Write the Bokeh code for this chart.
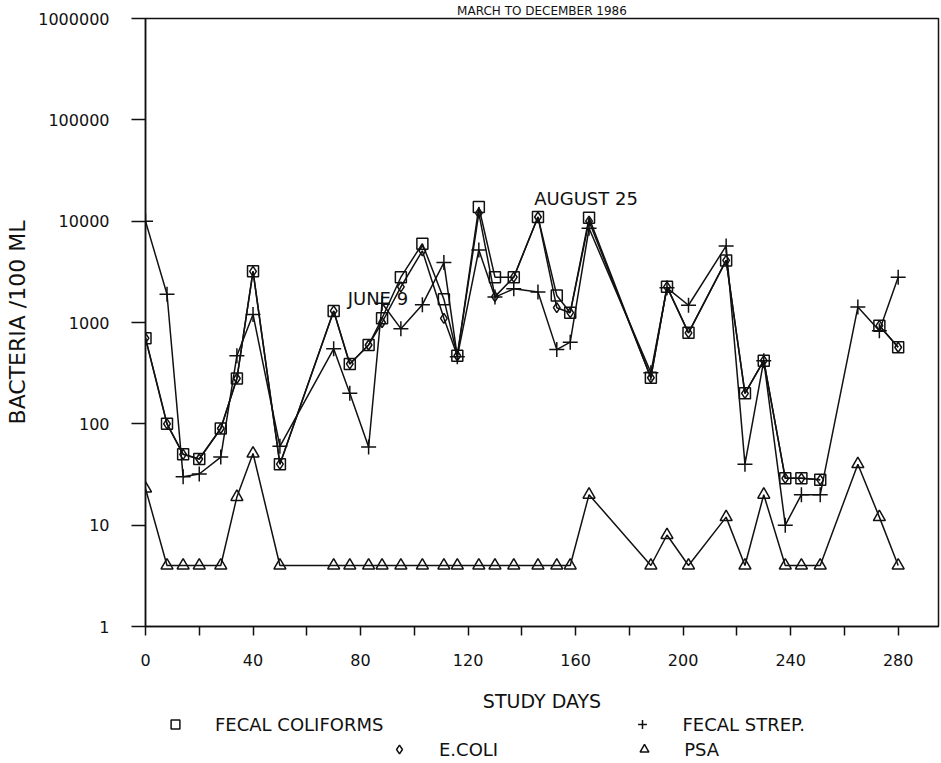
import numpy as np
from bokeh.plotting import figure
from bokeh.layouts import column
from bokeh.models import FixedTicker, Label, Legend, LegendItem, Range1d
from bokeh.embed import file_html
from bokeh.resources import INLINE

# Sampling days (study day number) and bacteria counts per 100 mL
days = [0, 8, 14, 20, 28, 34, 40, 50, 70, 76, 83, 88, 95, 103, 111, 116, 124,
        130, 137, 146, 153, 158, 165, 188, 194, 202, 216, 223, 230, 238, 244,
        251, 265, 273, 280]

fecal_coliforms = [700, 100, 50, 45, 90, 280, 3200, 40, 1300, 390, 600, 1100,
                   2800, 6000, 1700, 470, 13800, 2800, 2800, 11000, 1850, 1250,
                   10800, 285, 2250, 790, 4100, 200, 420, 29, 29, 28, np.nan,
                   930, 570]

e_coli = [700, 100, 50, 45, 90, 280, 3200, 40, 1300, 390, 600, 1000,
          2250, 5100, 1100, 470, 12000, 1800, 2800, 11000, 1400, 1250,
          10000, 285, 2250, 790, 4100, 200, 420, 29, 29, 28, np.nan,
          930, 570]

fecal_strep = [10000, 1900, 30, 32, 47, 470, 1200, 60, 550, 200, 59, 1550,
               870, 1500, 3900, 460, 5200, 1780, 2150, 2000, 540, 640, 8500,
               320, 2200, 1480, 5700, 40, 420, 10, 20, 20, 1420, 830, 2800]

psa = [23, 4, 4, 4, 4, 19, 51, 4, 4, 4, 4, 4, 4, 4, 4, 4, 4, 4, 4, 4, 4, 4,
       20, 4, 8, 4, 12, 4, 20, 4, 4, 4, 40, 12, 4]

x_ticks = [0, 40, 80, 120, 160, 200, 240, 280]
x_minor_ticks = [20, 60, 100, 140, 180, 220, 260]
y_ticks = [1, 10, 100, 1000, 10000, 100000, 1000000]
y_tick_labels = ["1", "10", "100", "1000", "10000", "100000", "1000000"]

FONT = "DejaVu Sans"
INK = "#111111"

p = figure(width=941, height=715,
           x_range=Range1d(0, 295), y_range=Range1d(1, 1e6),
           y_axis_type="log", output_backend="svg", toolbar_location=None,
           min_border_left=145, min_border_right=3,
           min_border_top=18, min_border_bottom=89,
           background_fill_color="white", border_fill_color="white")

p.title.text = "MARCH TO DECEMBER 1986"
p.title.align = "center"
p.title.offset = 6
p.title.standoff = 1
p.title.text_font = FONT
p.title.text_font_size = "12px"
p.title.text_font_style = "normal"
p.title.text_color = INK

p.grid.visible = False
p.outline_line_color = INK
p.outline_line_width = 1.5

# x axis: labels every 40 days, tick marks every 20
p.xaxis.ticker = FixedTicker(ticks=x_ticks, minor_ticks=x_minor_ticks)
p.xaxis.axis_label = "STUDY DAYS"
p.yaxis.ticker = FixedTicker(ticks=y_ticks, minor_ticks=[])
p.yaxis.major_label_overrides = dict(zip(y_ticks, y_tick_labels))
p.yaxis.axis_label = "BACTERIA /100 ML"

for ax in (p.xaxis[0], p.yaxis[0]):
    ax.axis_line_color = INK
    ax.axis_line_width = 1.5
    ax.major_tick_line_color = INK
    ax.major_tick_line_width = 1.5
    ax.minor_tick_line_color = INK
    ax.minor_tick_line_width = 1.5
    ax.major_tick_in = 0
    ax.minor_tick_in = 0
    ax.major_label_text_font = FONT
    ax.major_label_text_font_size = "16px"
    ax.major_label_text_color = INK
    ax.axis_label_text_font = FONT
    ax.axis_label_text_font_style = "normal"
    ax.axis_label_text_color = INK

p.xaxis.axis_label_text_font_size = "19px"
p.yaxis.axis_label_text_font_size = "22px"
p.xaxis.major_tick_out = 9
p.xaxis.minor_tick_out = 9
p.xaxis.major_label_standoff = 18
p.xaxis.axis_label_standoff = 21
p.yaxis.major_tick_out = 14
p.yaxis.minor_tick_out = 0
p.yaxis.major_label_standoff = 22
p.yaxis.axis_label_standoff = 5

line_kw = dict(line_color=INK, line_width=1.5)
marker_kw = dict(line_color=INK, line_width=1.5, fill_color=None)

p.line(days, fecal_coliforms, **line_kw)
p.line(days, e_coli, **line_kw)
p.line(days, fecal_strep, **line_kw)
p.line(days, psa, **line_kw)

styles = {
    "FECAL COLIFORMS": dict(marker="square", size=11),
    "E.COLI": dict(marker="diamond", size=10),
    "FECAL STREP.": dict(marker="cross", size=15),
    "PSA": dict(marker="triangle", size=12),
}
series = {
    "FECAL COLIFORMS": fecal_coliforms,
    "E.COLI": e_coli,
    "FECAL STREP.": fecal_strep,
    "PSA": psa,
}
for name, vals in series.items():
    p.scatter(days, vals, **styles[name], **marker_kw)

# event notes
p.add_layout(Label(x=75.2, y=10 ** 3.238, text="JUNE  9", text_baseline="middle",
                   text_font=FONT, text_font_size="18px", text_color=INK))
p.add_layout(Label(x=144.6, y=10 ** 4.222, text="AUGUST  25", text_baseline="middle",
                   text_font=FONT, text_font_size="18px", text_color=INK))

# key strip under the chart; each legend entry gets a glyph-only renderer
# holding a single NaN point, so only its legend swatch is ever drawn
key = figure(width=941, height=48, x_range=Range1d(0, 1), y_range=Range1d(0, 1),
             output_backend="svg", toolbar_location=None,
             min_border=0, outline_line_color=None,
             background_fill_color="white", border_fill_color="white")
key.axis.visible = False
key.grid.visible = False
key_r = {name: key.scatter([np.nan], [np.nan], **styles[name], **marker_kw)
         for name in styles}

rows = [["FECAL COLIFORMS", "FECAL STREP."], ["E.COLI", "PSA"]]
row_loc = [(19, 28), (243, 3)]   # first glyph's left edge, bottom of the row (px)
row_spacing = [248, 135]
for names, loc, gap in zip(rows, row_loc, row_spacing):
    lg = Legend(items=[LegendItem(label=n, renderers=[key_r[n]]) for n in names],
                location=loc, orientation="horizontal",
                padding=0, margin=0, spacing=gap,
                glyph_width=22, glyph_height=22, label_height=22,
                label_standoff=29,
                label_text_font=FONT, label_text_font_size="18px",
                label_text_color=INK, border_line_color=None,
                background_fill_alpha=0)
    key.add_layout(lg, "center")

open("out.html", "w").write(file_html(column(p, key, spacing=0), INLINE))
